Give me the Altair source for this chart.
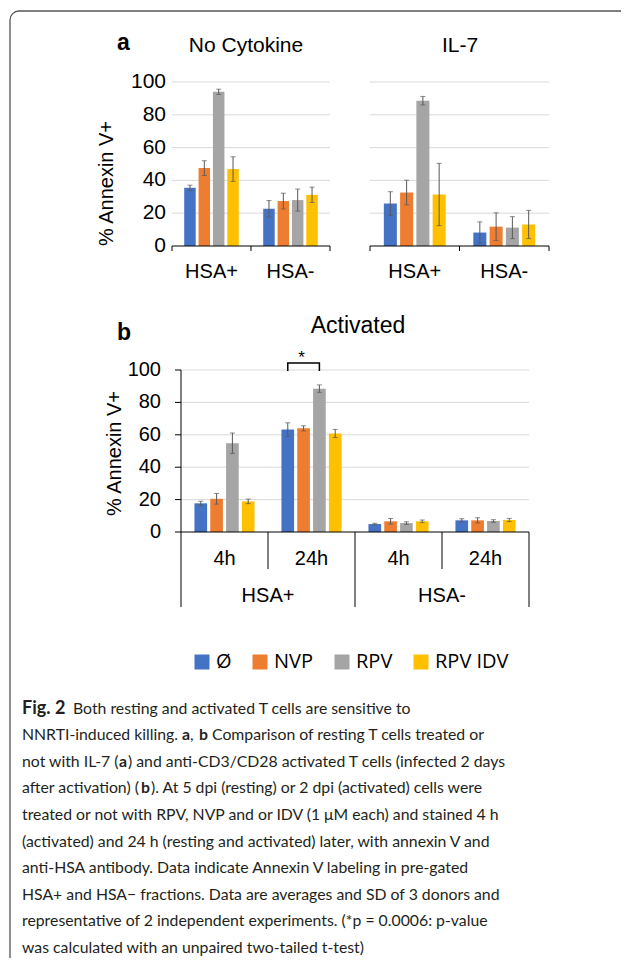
import altair as alt
import pandas as pd

# ---------------- data ----------------
treatments = ["Ø", "NVP", "RPV", "RPV IDV"]
treatment_colors = ["#4472C4", "#ED7D31", "#A5A5A5", "#FFC000"]
fractions = ["HSA+", "HSA-"]
times = ["4h", "24h"]
y_ticks = [0, 20, 40, 60, 80, 100]
grid_ticks = [20, 40, 60, 80, 100]

# panel a - No Cytokine
nocyt_pos_mean = [35.5, 47.5, 94.0, 46.9]
nocyt_pos_sd = [1.6, 4.5, 1.6, 7.5]
nocyt_neg_mean = [22.7, 27.4, 28.0, 31.2]
nocyt_neg_sd = [5.0, 4.8, 6.7, 4.7]
# panel a - IL-7
il7_pos_mean = [25.9, 32.6, 88.6, 31.4]
il7_pos_sd = [7.2, 7.5, 2.6, 19.0]
il7_neg_mean = [8.2, 11.8, 11.2, 13.1]
il7_neg_sd = [6.5, 8.4, 6.7, 8.6]
# panel b - Activated
act_pos_4h_mean = [17.7, 20.5, 54.8, 18.9]
act_pos_4h_sd = [1.3, 3.3, 6.3, 1.4]
act_pos_24h_mean = [63.2, 64.0, 88.5, 60.8]
act_pos_24h_sd = [4.2, 1.6, 2.3, 2.5]
act_neg_4h_mean = [4.9, 6.6, 5.5, 6.6]
act_neg_4h_sd = [0.5, 1.7, 0.8, 0.8]
act_neg_24h_mean = [7.2, 7.2, 6.8, 7.4]
act_neg_24h_sd = [1.0, 1.6, 0.8, 1.0]

# significance annotation (HSA+ 24h, Ø vs RPV)
bracket_pair = ["Ø", "RPV"]
bracket_low, bracket_high = 99.4, 104.3
star_level = 107.5

caption_label = "Fig. 2"
caption_lines = [
    [("Both resting and activated T cells are sensitive to", False)],
    [("NNRTI-induced killing.", False), ("a", True), (",", False), ("b", True),
     ("Comparison of resting T cells treated or", False)],
    [("not with IL-7 (", False), ("a", True), (") and anti-CD3/CD28 activated T cells (infected 2 days", False)],
    [("after activation) (", False), ("b", True), ("). At 5 dpi (resting) or 2 dpi (activated) cells were", False)],
    [("treated or not with RPV, NVP and or IDV (1 μM each) and stained 4 h", False)],
    [("(activated) and 24 h (resting and activated) later, with annexin V and", False)],
    [("anti-HSA antibody. Data indicate Annexin V labeling in pre-gated", False)],
    [("HSA+ and HSA− fractions. Data are averages and SD of 3 donors and", False)],
    [("representative of 2 independent experiments. (*p = 0.0006: p-value", False)],
    [("was calculated with an unpaired two-tailed t-test)", False)],
]

# ---------------- layout (page pixels) ----------------
W, H = 613, 950
M = 8
def px(v):
    return v - M

caption_seg_x = [[73], [22, 182, 190, 199, 212], [22, 119, 128], [22, 141, 151],
                 [22], [22], [22], [22], [22], [22]]
FONT = "Liberation Sans"
CAPFONT = "Lato"
ERR = "#595959"

cscale = alt.Scale(domain=treatments, range=treatment_colors)
legend = alt.Legend(orient="none", legendX=px(192), legendY=px(652), direction="horizontal",
                    columns=4, title=None, symbolType="square", symbolSize=225,
                    symbolStrokeWidth=0, labelFont="Open Sans", labelFontSize=20,
                    labelColor="#000000", labelOffset=4, columnPadding=18, symbolOpacity=1)


def make_df(groups, means, sds):
    rows = []
    for g, m, s in zip(groups, means, sds):
        for t, mv, sv in zip(treatments, m, s):
            rows.append({"grp": g, "trt": t, "val": mv, "lo": mv - sv, "hi": mv + sv})
    return pd.DataFrame(rows)


def panel(df, groups, x_rng, y_rng, extra=()):
    xs = alt.Scale(domain=groups, range=x_rng, paddingInner=0, paddingOuter=0)
    ys = alt.Scale(domain=[0, 100], range=y_rng, nice=False, zero=True)
    os_ = alt.Scale(domain=treatments, paddingInner=0.2, paddingOuter=0.85)
    grid = alt.Chart(pd.DataFrame({"tick": grid_ticks})).mark_rule(
        color="#D9D9D9", strokeWidth=1).encode(
        y=alt.Y("tick:Q", scale=ys, axis=None),
        x=alt.value(x_rng[0]), x2=alt.value(x_rng[1]))
    base = alt.Chart(df)
    bars = base.mark_bar().encode(
        x=alt.X("grp:N", scale=xs, axis=None),
        xOffset=alt.XOffset("trt:N", scale=os_),
        y=alt.Y("val:Q", axis=None),
        color=alt.Color("trt:N", scale=cscale, legend=legend))
    err = base.mark_rule(color=ERR, strokeWidth=1).encode(
        x=alt.X("grp:N", axis=None), xOffset=alt.XOffset("trt:N"),
        y=alt.Y("lo:Q", axis=None), y2="hi:Q")
    cap_lo = base.mark_tick(color=ERR, orient="horizontal", size=5, thickness=1).encode(
        x=alt.X("grp:N", axis=None), xOffset=alt.XOffset("trt:N"), y=alt.Y("lo:Q", axis=None))
    cap_hi = base.mark_tick(color=ERR, orient="horizontal", size=5, thickness=1).encode(
        x=alt.X("grp:N", axis=None), xOffset=alt.XOffset("trt:N"), y=alt.Y("hi:Q", axis=None))
    # category axis line at y = 0
    x_line = alt.Chart(pd.DataFrame({"k": [0]})).mark_rule(color="black", strokeWidth=1).encode(
        y=alt.Y(datum=0, axis=None), x=alt.value(x_rng[0]), x2=alt.value(x_rng[1]))
    return alt.layer(grid, bars, err, cap_lo, cap_hi, x_line, *extra)


def y_labels(x_right, size):
    return alt.Chart(pd.DataFrame({"tick": y_ticks})).mark_text(
        font=FONT, fontSize=size, color="black", align="right", baseline="middle").encode(
        y=alt.Y("tick:Q", axis=None), x=alt.value(px(x_right)), text="tick:Q")


def a_extras(groups, with_y):
    gdf = pd.DataFrame({"grp": groups})
    ticks0 = alt.Chart(gdf).mark_rule(color="black", strokeWidth=1).encode(
        x=alt.X("grp:N", bandPosition=0, axis=None), y=alt.value(px(246)), y2=alt.value(px(251)))
    ticks1 = alt.Chart(pd.DataFrame({"grp": [groups[-1]]})).mark_rule(
        color="black", strokeWidth=1).encode(
        x=alt.X("grp:N", bandPosition=1, axis=None), y=alt.value(px(246)), y2=alt.value(px(251)))
    xl = alt.Chart(gdf).mark_text(font=FONT, fontSize=20, color="black",
                                  baseline="alphabetic").encode(
        x=alt.X("grp:N", axis=None), y=alt.value(px(278)), text="grp:N")
    out = [ticks0, ticks1, xl]
    if with_y:
        out.append(y_labels(166, 21))
    return out


# panel a left
df_nocyt = make_df(fractions, [nocyt_pos_mean, nocyt_neg_mean], [nocyt_pos_sd, nocyt_neg_sd])
pa1 = panel(df_nocyt, fractions, [px(172), px(330)], [px(246), px(82)],
            extra=a_extras(fractions, True))

# panel a right
df_il7 = make_df(fractions, [il7_pos_mean, il7_neg_mean], [il7_pos_sd, il7_neg_sd])
pa2 = panel(df_il7, fractions, [px(370), px(549)], [px(246), px(82)],
            extra=a_extras(fractions, False))

# panel b
keys = [f"{f}|{t}" for f in fractions for t in times]
key_times = [t for f in fractions for t in times]
df_act = make_df(keys, [act_pos_4h_mean, act_pos_24h_mean, act_neg_4h_mean, act_neg_24h_mean],
                 [act_pos_4h_sd, act_pos_24h_sd, act_neg_4h_sd, act_neg_24h_sd])

short_sep = alt.Chart(pd.DataFrame({"grp": [f"{f}|{times[1]}" for f in fractions]})).mark_rule(
    color="black", strokeWidth=1).encode(
    x=alt.X("grp:N", bandPosition=0, axis=None), y=alt.value(px(532)), y2=alt.value(px(569)))
time_lbl = alt.Chart(pd.DataFrame({"grp": keys, "t": key_times})).mark_text(
    font=FONT, fontSize=20, color="black", baseline="alphabetic").encode(
    x=alt.X("grp:N", axis=None), y=alt.value(px(565)), text="t:N")
y_line_b = alt.Chart(pd.DataFrame({"k": [0]})).mark_rule(color="black", strokeWidth=1).encode(
    y=alt.Y(datum=0, axis=None), y2=alt.Y2(datum=100), x=alt.value(px(181)))
y_ticks_b = alt.Chart(pd.DataFrame({"tick": y_ticks})).mark_rule(
    color="black", strokeWidth=1).encode(
    y=alt.Y("tick:Q", axis=None), x=alt.value(px(175)), x2=alt.value(px(181)))
brk_df = pd.DataFrame({"grp": ["HSA+|24h"] * 4,
                       "trt": [bracket_pair[0], bracket_pair[0], bracket_pair[1], bracket_pair[1]],
                       "val": [bracket_low, bracket_high, bracket_high, bracket_low],
                       "ord": [0, 1, 2, 3]})
bracket = alt.Chart(brk_df).mark_line(color="black", strokeWidth=1.5).encode(
    x=alt.X("grp:N", axis=None), xOffset=alt.XOffset("trt:N"),
    y=alt.Y("val:Q", axis=None), order="ord:Q")
star = alt.Chart(pd.DataFrame({"grp": ["HSA+|24h"], "trt": ["NVP"], "val": [star_level],
                               "t": ["*"]})).mark_text(
    font=FONT, fontSize=17, color="black", dx=-2, baseline="middle").encode(
    x=alt.X("grp:N", axis=None), xOffset=alt.XOffset("trt:N"),
    y=alt.Y("val:Q", axis=None), text="t:N")

pb = panel(df_act, keys, [px(181), px(529)], [px(532), px(370)],
           extra=(short_sep, time_lbl, y_line_b, y_ticks_b, y_labels(161, 20), bracket, star))

# panel b: fraction labels and long separators
fs = alt.Scale(domain=fractions, range=[px(181), px(529)], paddingInner=0, paddingOuter=0)
frac_df = pd.DataFrame({"grp": fractions})
frac_lbl = alt.Chart(frac_df).mark_text(font=FONT, fontSize=20, color="black",
                                        baseline="alphabetic").encode(
    x=alt.X("grp:N", scale=fs, axis=None), y=alt.value(px(602)), text="grp:N")
long_sep0 = alt.Chart(frac_df).mark_rule(color="black", strokeWidth=1).encode(
    x=alt.X("grp:N", bandPosition=0, axis=None), y=alt.value(px(532)), y2=alt.value(px(607)))
long_sep1 = alt.Chart(pd.DataFrame({"grp": [fractions[-1]]})).mark_rule(
    color="black", strokeWidth=1).encode(
    x=alt.X("grp:N", bandPosition=1, axis=None), y=alt.value(px(532)), y2=alt.value(px(607)))
pb_frac = alt.layer(frac_lbl, long_sep0, long_sep1)


def label(text, x, y, size, bold=False, align="left", angle=0, baseline="alphabetic",
          font=FONT, color="black"):
    kw = dict(font=font, fontSize=size, fontWeight="bold" if bold else "normal", color=color,
              align=align, baseline=baseline)
    if angle:
        kw["angle"] = angle
    return alt.Chart(pd.DataFrame({"t": [text]})).mark_text(**kw).encode(
        x=alt.value(px(x)), y=alt.value(px(y)), text="t:N")


CAP_Y0, CAP_DY = 713.5, 26.6
titles = [
    label("a", 117, 50, 23, bold=True),
    label("No Cytokine", 246, 52, 21, align="center"),
    label("IL-7", 460, 52, 21, align="center"),
    label("b", 117, 340, 23, bold=True),
    label("Activated", 358, 333, 23, align="center"),
    label("% Annexin V+", 107, 183.5, 20, align="center", angle=270, baseline="middle"),
    label("% Annexin V+", 114.5, 453.5, 20, align="center", angle=270, baseline="middle"),
    label(caption_label, 22, CAP_Y0 + 0.5, 18, bold=True, font=CAPFONT, color="#231F20"),
]

# caption
cap_rows = []
for i, segs in enumerate(caption_lines):
    for (txt, bold), x in zip(segs, caption_seg_x[i]):
        cap_rows.append({"t": txt, "b": bold, "x": px(x), "y": px(CAP_Y0 + CAP_DY * i)})
cap_df = pd.DataFrame(cap_rows)
cap_norm = alt.Chart(cap_df[~cap_df.b]).mark_text(
    font=CAPFONT, fontSize=15.8, color="#231F20", align="left", baseline="alphabetic").encode(
    x=alt.X("x:Q", scale=None, axis=None), y=alt.Y("y:Q", scale=None, axis=None), text="t:N")
cap_bold = alt.Chart(cap_df[cap_df.b]).mark_text(
    font=CAPFONT, fontSize=15.8, fontWeight="bold", color="#231F20", align="left",
    baseline="alphabetic").encode(
    x=alt.X("x:Q", scale=None, axis=None), y=alt.Y("y:Q", scale=None, axis=None), text="t:N")

frame = alt.Chart(pd.DataFrame({"k": [0]})).mark_rect(
    fillOpacity=0, stroke="#555555", strokeWidth=1.3, cornerRadius=9).encode(
    x=alt.value(px(10)), x2=alt.value(900), y=alt.value(px(11)), y2=alt.value(1300))

chart = alt.layer(frame, pa1, pa2, pb, pb_frac, *titles, cap_norm, cap_bold).resolve_scale(
    x="independent", y="independent", xOffset="independent").properties(
    width=W, height=H, padding=0, autosize=alt.AutoSizeParams(type="none")
).configure_view(stroke=None)

chart.save("out.html", embed_options={"renderer": "svg", "actions": False})
